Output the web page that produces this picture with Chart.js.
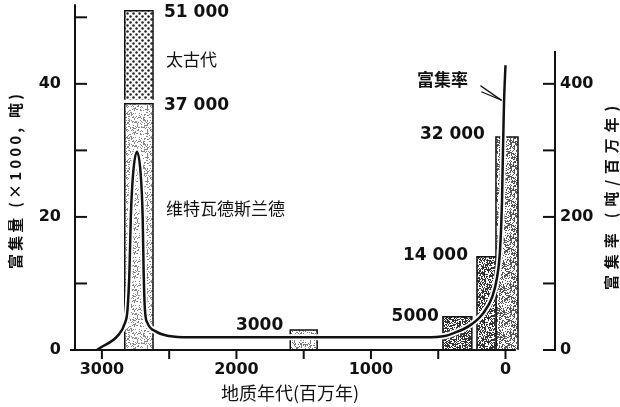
<!DOCTYPE html>
<html>
<head>
<meta charset="utf-8">
<script src="https://cdn.jsdelivr.net/npm/chart.js@4/dist/chart.umd.min.js"></script>
<style>
  html, body { margin: 0; padding: 0; background: #fff; }
  canvas { display: block; }
</style>
</head>
<body>
<canvas id="goldChart" width="620" height="407"></canvas>
<script>
// gold accumulated per geologic period (x1000 t) and accumulation rate (t / Myr)
const barFrom = [2830, 2830, 1600, 465, 212, 71];   // Myr, older edge
const barTo = [2620, 2620, 1400, 250, 71, -93];     // Myr, younger edge
const barBase = [37.6, 0, 0, 0, 0, 0];
const barTop = [51, 37, 3, 5, 14, 32];
const barLabels = ['51 000', '37 000', '3000', '5000', '14 000', '32 000'];

const rateAge = [3037, 3015, 2880, 2830, 2810, 2795, 2785, 2770, 2740, 2712, 2697, 2690, 2680, 2660, 2600, 2500, 2350,
  1500, 600, 450, 390, 264, 167, 100, 63, 41, 26, 19, 11, 0];
const rateValue = [0, 3, 22, 40, 60, 120, 200, 260, 298, 265, 200, 120, 60, 40, 28, 21, 19,
  19, 19, 21, 25, 37, 55, 79, 109, 149, 223, 297, 372, 428];

const leftTicks = [0, 20, 40];
const rightTicks = [0, 200, 400];
const ageTicks = [3000, 2000, 1000, 0];

const INK = '#111';
const numFont = 'bold 17px "DejaVu Sans"';
const cjk = '"Noto Sans CJK SC"';

function speckle(density, dot, seed) {
  const c = document.createElement('canvas');
  c.width = c.height = 24;
  const g = c.getContext('2d');
  g.fillStyle = '#fff';
  g.fillRect(0, 0, 24, 24);
  g.fillStyle = dot;
  let s = seed >>> 0;
  for (let py = 0; py < 24; py++) {
    for (let px = 0; px < 24; px++) {
      s = (Math.imul(s, 1664525) + 1013904223) >>> 0;
      if (s / 4294967296 < density) g.fillRect(px, py, 1, 1);
    }
  }
  return g.createPattern(c, 'repeat');
}

function dots() {
  const c = document.createElement('canvas');
  c.width = c.height = 6;
  const g = c.getContext('2d');
  g.fillStyle = '#fff';
  g.fillRect(0, 0, 6, 6);
  g.fillStyle = '#222';
  [[1.5, 1.5], [4.5, 4.5]].forEach(([a, b]) => {
    g.beginPath();
    g.arc(a, b, 1.25, 0, Math.PI * 2);
    g.fill();
  });
  return g.createPattern(c, 'repeat');
}

const barFills = [
  dots(),
  speckle(0.3, '#888', 11),
  speckle(0.25, '#777', 23),
  speckle(0.6, '#333', 37),
  speckle(0.5, '#333', 41),
  speckle(0.42, '#555', 53)
];

// where each number sits next to its bar
const labelPlace = [
  { side: 'right', dx: 11, dy: 2 },
  { side: 'right', dx: 11, dy: 2 },
  { side: 'left', dx: -7, dy: -4 },
  { side: 'left', dx: -4, dy: 0 },
  { side: 'left', dx: -9, dy: -1 },
  { side: 'left', dx: -11, dy: -2 }
];

const barSets = barTop.map((top, i) => ({
  type: 'line',
  data: [
    { x: barFrom[i], y: barBase[i] },
    { x: barFrom[i], y: top },
    { x: barTo[i], y: top },
    { x: barTo[i], y: barBase[i] }
  ],
  yAxisID: 'y',
  borderColor: INK,
  borderWidth: 1.5,
  backgroundColor: barFills[i],
  fill: { value: barBase[i] },
  pointRadius: 0,
  tension: 0,
  order: 3
}));

const ratePoints = rateAge.map((a, i) => ({ x: a, y: rateValue[i] }));

function spaced(ctx, text, target) {
  ctx.letterSpacing = '0px';
  const w = ctx.measureText(text).width;
  const n = [...text].length;
  ctx.letterSpacing = Math.max(0, (target - w) / n) + 'px';
}

const inkPlugin = {
  id: 'ink',
  afterDraw(chart) {
    const { ctx, chartArea: area, scales: { x, y, y2 } } = chart;
    const y0 = y.getPixelForValue(0);
    ctx.save();
    ctx.strokeStyle = INK;
    ctx.fillStyle = INK;
    ctx.lineWidth = 2;
    ctx.lineCap = 'square';

    const seg = (a, b, c, d) => { ctx.beginPath(); ctx.moveTo(a, b); ctx.lineTo(c, d); ctx.stroke(); };

    // axes
    seg(area.left, y.getPixelForValue(51.8), area.left, y0);
    seg(x.getPixelForValue(3230), y0, x.getPixelForValue(-70), y0);
    seg(area.right, y2.getPixelForValue(448), area.right, y2.getPixelForValue(0));
    for (let v = 10; v <= 50; v += 10) {
      const p = y.getPixelForValue(v);
      seg(area.left, p, area.left + 11, p);
    }
    for (let v = 0; v <= 400; v += 100) {
      const p = y2.getPixelForValue(v);
      seg(area.right - 11, p, area.right, p);
    }
    for (let v = 0; v <= 3000; v += 500) {
      const p = x.getPixelForValue(v);
      seg(p, y0, p, y0 + 8);
    }

    // bar numbers
    ctx.font = numFont;
    ctx.textBaseline = 'middle';
    barLabels.forEach((t, i) => {
      const pl = labelPlace[i];
      const py = y.getPixelForValue(barTop[i]) + pl.dy;
      if (pl.side === 'right') {
        ctx.textAlign = 'left';
        ctx.fillText(t, x.getPixelForValue(barTo[i]) + pl.dx, py);
      } else {
        ctx.textAlign = 'right';
        ctx.fillText(t, x.getPixelForValue(barFrom[i]) + pl.dx, py);
      }
    });

    // period names
    const nameX = x.getPixelForValue(barTo[0]) + 13;
    ctx.textAlign = 'left';
    ctx.font = '17px ' + cjk;
    ctx.fillText('太古代', nameX, y.getPixelForValue(43.6));
    ctx.fillText('维特瓦德斯兰德', nameX, y.getPixelForValue(21.2));

    // rate label with pointer
    ctx.font = 'bold 17px ' + cjk;
    ctx.fillText('富集率', 417, 80);
    ctx.lineWidth = 1.3;
    seg(481, 86, 501, 100);
    seg(482, 92, 501, 100);

    // axis titles
    ctx.textAlign = 'center';
    ctx.font = 'bold 15px ' + cjk;
    ctx.save();
    ctx.translate(15, 180);
    ctx.rotate(-Math.PI / 2);
    spaced(ctx, '富集量 (×1000, 吨)', 178);
    ctx.fillText('富集量 (×1000, 吨)', 0, 0);
    ctx.restore();

    ctx.save();
    ctx.translate(611, 195);
    ctx.rotate(-Math.PI / 2);
    spaced(ctx, '富集率 (吨/百万年)', 190);
    ctx.fillText('富集率 (吨/百万年)', 0, 0);
    ctx.restore();

    ctx.letterSpacing = '0px';
    ctx.font = '18px ' + cjk;
    ctx.fillText('地质年代(百万年)', 290, 393);
    ctx.restore();
  }
};

const tickFont = { family: '"DejaVu Sans"', size: 16, weight: 'bold' };
const plain = v => String(v);

new Chart(document.getElementById('goldChart'), {
  type: 'line',
  data: {
    datasets: [
      {
        data: ratePoints,
        yAxisID: 'y2',
        borderColor: INK,
        borderWidth: 2.5,
        pointRadius: 0,
        fill: false,
        cubicInterpolationMode: 'monotone',
        order: 0
      },
      {
        data: ratePoints,
        yAxisID: 'y2',
        borderColor: '#fff',
        borderWidth: 6,
        pointRadius: 0,
        fill: false,
        cubicInterpolationMode: 'monotone',
        order: 1
      },
      ...barSets
    ]
  },
  options: {
    responsive: false,
    animation: false,
    events: [],
    layout: { padding: { top: 4, left: 0, right: 0, bottom: 0 } },
    plugins: { legend: { display: false }, tooltip: { enabled: false } },
    scales: {
      x: {
        type: 'linear',
        reverse: true,
        min: -368,
        max: 3200,
        grid: { display: false, drawTicks: false },
        border: { display: false },
        ticks: { font: tickFont, color: INK, padding: 10, maxRotation: 0, callback: plain },
        afterBuildTicks: s => { s.ticks = ageTicks.map(value => ({ value })); },
        afterFit: s => { s.height = 57; s.paddingLeft = 0; s.paddingRight = 0; }
      },
      y: {
        position: 'left',
        min: 0,
        max: 52,
        grid: { display: false, drawTicks: false },
        border: { display: false },
        ticks: { font: tickFont, color: INK, padding: 14, callback: plain },
        afterBuildTicks: s => { s.ticks = leftTicks.map(value => ({ value })); },
        afterFit: s => { s.width = 75; s.paddingTop = 0; s.paddingBottom = 0; }
      },
      y2: {
        position: 'right',
        min: 0,
        max: 520,
        grid: { display: false, drawTicks: false },
        border: { display: false },
        ticks: { font: tickFont, color: INK, padding: 5, callback: plain },
        afterBuildTicks: s => { s.ticks = rightTicks.map(value => ({ value })); },
        afterFit: s => { s.width = 65; s.paddingTop = 0; s.paddingBottom = 0; }
      }
    }
  },
  plugins: [inkPlugin]
});
</script>
</body>
</html>
